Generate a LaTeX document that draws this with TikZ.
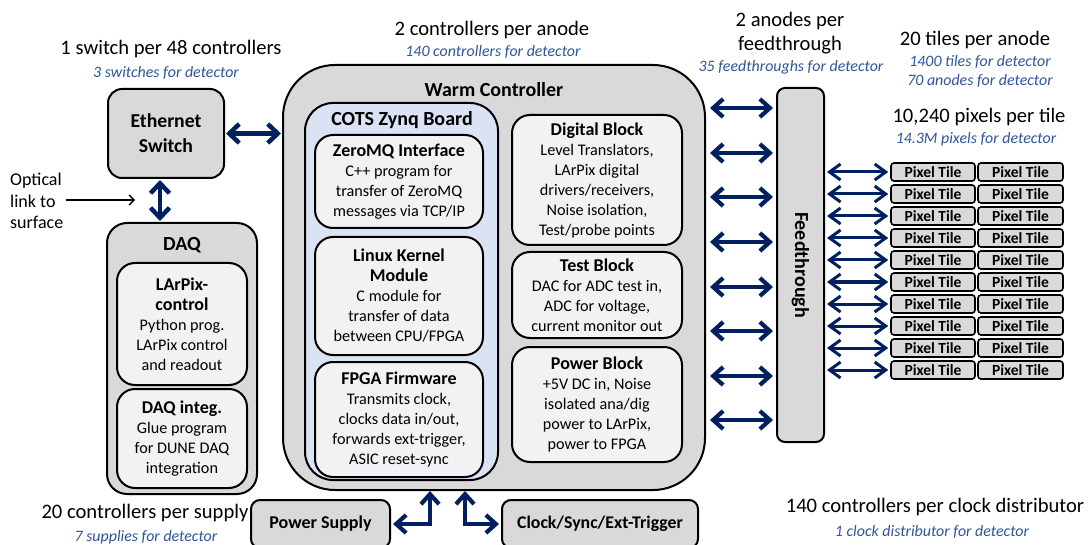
\documentclass[tikz,border=0pt]{standalone}
\usepackage{fontspec}
\setmainfont{Carlito}
\usetikzlibrary{arrows.meta}
\definecolor{navy}{HTML}{002060}
\definecolor{statblue}{HTML}{2F5597}
\definecolor{boxgray}{HTML}{D9D9D9}
\definecolor{subfill}{HTML}{F2F2F2}
\definecolor{zynqfill}{HTML}{DAE3F3}
\newcommand{\bodyf}{\fontsize{16.2}{20}\selectfont}
\newcommand{\ttl}[1]{{\bfseries\fontsize{18}{20}\selectfont #1}}
\tikzset{
  every node/.style={inner sep=0pt},
  box/.style={draw=black, line width=2pt, fill=boxgray, rounded corners=#1, align=center},
  box/.default=14pt,
  sub/.style={draw=black, line width=2pt, fill=subfill, rounded corners=18pt, align=center, font=\bodyf},
  bigtitle/.style={font=\bfseries\fontsize{20}{24}\selectfont},
  note/.style={font=\fontsize{20.6}{24}\selectfont},
  stat/.style={font=\fontsize{15.9}{19}\selectfont\itshape, text=statblue},
  tile/.style={draw=black, line width=1.6pt, fill=boxgray, rounded corners=3pt, minimum height=18pt, font=\bfseries\fontsize{15.5}{17}\selectfont},
  bigarrow/.style={draw=navy, line width=4.2pt, <->, >={Straight Barb[length=10pt,width=18pt]}},
  fatarrow/.style={draw=navy, line width=4.5pt, <->, >={Straight Barb[length=10pt,width=19pt]}},
  tilearrow/.style={draw=navy, line width=3pt, <->, >={Straight Barb[length=11pt,width=16pt]}},
  thinarrow/.style={draw=black, line width=1.3pt, ->, >={Straight Barb[length=5pt,width=10pt]}}
}
\begin{document}
\begin{tikzpicture}[x=1pt,y=-1pt]
\useasboundingbox (0,0) rectangle (1089,545);

% Ethernet switch
\node[box=14pt, minimum width=116pt, minimum height=89pt, font=\bfseries\fontsize{19.7}{25}\selectfont] (eth) at (166,133.5) {Ethernet\\Switch};
\node[note] (sw1) at (171,49) {1 switch per 48 controllers};
\node[stat] (sw2) at (166,73) {3 switches for detector};

% DAQ
\node[box=20pt, minimum width=150pt, minimum height=271pt] (daq) at (182,358.5) {};
\node[bigtitle] (daqt) at (182,245) {DAQ};
\node[sub, minimum width=130pt, minimum height=122pt] (larpix) at (182,324) {\ttl{LArPix-}\\\ttl{control}\\Python prog.\\LArPix control\\and readout};
\node[sub, minimum width=130pt, minimum height=99pt] (daqint) at (182,438.5) {\ttl{DAQ integ.}\\Glue program\\for DUNE DAQ\\integration};

% Optical link
\node[font=\fontsize{18}{21.5}\selectfont, align=left, anchor=west] (opt) at (10,201) {Optical\\link to\\surface};
\coordinate (optend) at (135,200);
\draw[thinarrow, shorten <=2pt] (opt.east |- optend) -- (optend);

% Warm controller
\node[box=52pt, minimum width=422pt, minimum height=425pt] (warm) at (494,277.5) {};
\node[bigtitle] (warmt) at (494,90) {Warm Controller};
\node[note] (an1) at (492,30) {2 controllers per anode};
\node[stat] (an2) at (493,52) {140 controllers for detector};

\node[draw=black, line width=2pt, fill=zynqfill, rounded corners=28pt, minimum width=193pt, minimum height=377pt] (zynq) at (401.5,291.5) {};
\node[bigtitle] (zynqt) at (402,120) {COTS Zynq Board};
\node[sub, minimum width=168pt, minimum height=93pt] (zmq) at (399,181.5) {\ttl{ZeroMQ Interface}\\C++ program for\\transfer of ZeroMQ\\messages via TCP/IP};
\node[sub, minimum width=168pt, minimum height=118pt] (lkm) at (399,296) {\ttl{Linux Kernel}\\\ttl{Module}\\C module for\\transfer of data\\between CPU/FPGA};
\node[sub, minimum width=168pt, minimum height=115pt] (fpga) at (399,419.5) {\ttl{FPGA Firmware}\\Transmits clock,\\clocks data in/out,\\forwards ext-trigger,\\ASIC reset-sync};

\node[sub, minimum width=170pt, minimum height=130pt] (dig) at (597,180) {\ttl{Digital Block}\\Level Translators,\\LArPix digital\\drivers/receivers,\\Noise isolation,\\Test/probe points};
\node[sub, minimum width=170pt, minimum height=86pt] (test) at (597,295) {\ttl{Test Block}\\DAC for ADC test in,\\ADC for voltage,\\current monitor out};
\node[sub, minimum width=170pt, minimum height=115pt] (pwr) at (597,404.5) {\ttl{Power Block}\\+5V DC in, Noise\\isolated ana/dig\\power to LArPix,\\power to FPGA};

% Feedthrough
\node[box=8pt, minimum width=47pt, minimum height=354pt] (feed) at (800.5,265) {};
\node[rotate=-90, font=\bfseries\fontsize{20}{24}\selectfont] (feedt) at (800.5,265) {Feedthrough};
\node[note] (ft1) at (790,21) {2 anodes per};
\node[note] (ft2) at (790,45) {feedthrough};
\node[stat] (ft3) at (791,67) {35 feedthroughs for detector};

% Tiles
\node[note] (tl1) at (975,40) {20 tiles per anode};
\node[stat, align=center] (tl2) at (980,71.5) {1400 tiles for detector\\70 anodes for detector};
\node[note] (px1) at (979,117) {10,240 pixels per tile};
\node[stat] (px2) at (976,139) {14.3M pixels for detector};

\foreach \i in {0,...,9} {
  \node[tile, minimum width=84pt] (ta\i) at (933,{172+22*\i}) {Pixel Tile};
  \node[tile, minimum width=85pt] (tb\i) at (1020.5,{172+22*\i}) {Pixel Tile};
  \draw[tilearrow, shorten <=2pt, shorten >=2pt] (feed.east |- ta\i.west) -- (ta\i.west);
}

% Warm <-> Feedthrough
\foreach \y in {108,153,197,242,287,331,376,420} {
  \coordinate (wf) at (0,\y);
  \draw[bigarrow, shorten <=4pt, shorten >=3pt] (warm.east |- wf) -- (feed.west |- wf);
}

% Ethernet connections
\draw[fatarrow, shorten <=1pt, shorten >=1pt] (eth.east) -- (eth.east -| warm.west);
\coordinate (ed) at (160,0);
\draw[fatarrow, shorten <=1pt, shorten >=1pt] (eth.south -| ed) -- (daq.north -| ed);

% Bottom
\node[box=9pt, minimum width=139pt, minimum height=48pt, font=\bfseries\fontsize{18}{20}\selectfont] (psu) at (320.5,524) {Power Supply};
\node[box=9pt, minimum width=196pt, minimum height=48pt, font=\bfseries\fontsize{17.8}{20}\selectfont] (clk) at (600,524) {Clock/Sync/Ext-Trigger};
\node[note] (ps1) at (145,513) {20 controllers per supply};
\node[stat] (ps2) at (146,537) {7 supplies for detector};
\node[note] (ck1) at (935,507) {140 controllers per clock distributor};
\node[stat] (ck2) at (932,532) {1 clock distributor for detector};

\coordinate (pv) at (430,0);
\draw[bigarrow, shorten <=2pt] (psu.east) -- (psu.east -| pv) -- (pv |- warm.south);
\coordinate (cv) at (465,0);
\draw[bigarrow, shorten >=2pt] (cv |- warm.south) -- (cv |- clk.west) -- (clk.west);
\end{tikzpicture}
\end{document}
